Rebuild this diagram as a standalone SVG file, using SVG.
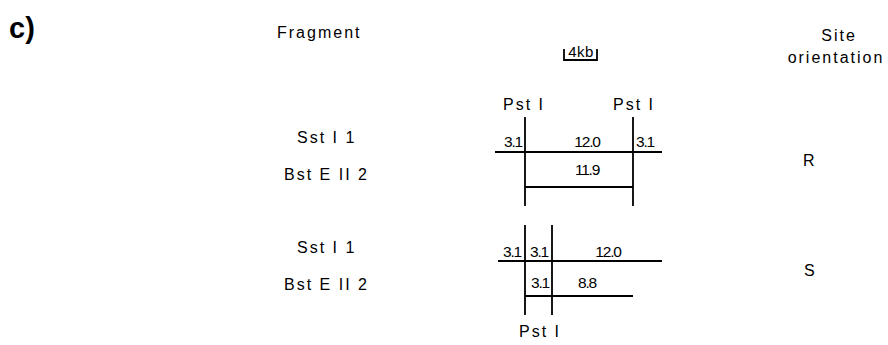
<svg xmlns="http://www.w3.org/2000/svg" width="888" height="345" viewBox="0 0 888 345">
<style>
text{font-family:"Liberation Sans","DejaVu Sans",sans-serif;fill:#000}
.lab{font-size:16px;letter-spacing:2px}
.num{font-size:15.5px;letter-spacing:-1.2px}
.ln{stroke:#000;stroke-width:1.8;fill:none}
</style>
<rect width="888" height="345" fill="#fff"/>
<text x="9" y="38" font-size="29" font-weight="bold">c)</text>
<g id="headers">
<text class="lab" x="277" y="38">Fragment</text>
<text class="lab" x="839" y="41" text-anchor="middle">Site</text>
<text class="lab" x="836" y="63" text-anchor="middle" letter-spacing="1">orientation</text>
</g>
<g id="scale">
<text x="581" y="57" font-size="15" text-anchor="middle" letter-spacing="0.5">4kb</text>
<path class="ln" stroke-width="1.6" d="M564,49 V60 H597 V49"/>
</g>
<g id="row-R">
<text class="lab" x="297" y="143">Sst I 1</text>
<text class="lab" x="284" y="180" letter-spacing="1.2">Bst E II 2</text>
<text class="lab" x="803" y="166">R</text>
</g>
<g id="row-S">
<text class="lab" x="297" y="253">Sst I 1</text>
<text class="lab" x="284" y="290" letter-spacing="1.2">Bst E II 2</text>
<text class="lab" x="804" y="276">S</text>
</g>
<g id="map-R">
<text class="lab" x="503" y="110" letter-spacing="1.6">Pst I</text>
<text class="lab" x="613" y="110" letter-spacing="1.6">Pst I</text>
<text class="num" x="504" y="147">3.1</text>
<text class="num" x="587" y="147" text-anchor="middle">12.0</text>
<text class="num" x="636" y="147">3.1</text>
<text class="num" x="587" y="175" text-anchor="middle">11.9</text>
</g>
<g id="map-S">
<text class="num" x="503" y="257">3.1</text>
<text class="num" x="530" y="257">3.1</text>
<text class="num" x="608" y="257" text-anchor="middle">12.0</text>
<text class="num" x="531" y="288">3.1</text>
<text class="num" x="587" y="288" text-anchor="middle">8.8</text>
<text class="lab" x="519" y="337" letter-spacing="1.6">Pst I</text>
</g>
<g id="connectors">
<path class="ln" d="M525,117 V206 M633,117 V206 M495,152 H662 M525,187 H633"/>
<path class="ln" d="M525,225 V315 M552,225 V315 M498,261 H662 M525,296 H633"/>
</g>
</svg>
